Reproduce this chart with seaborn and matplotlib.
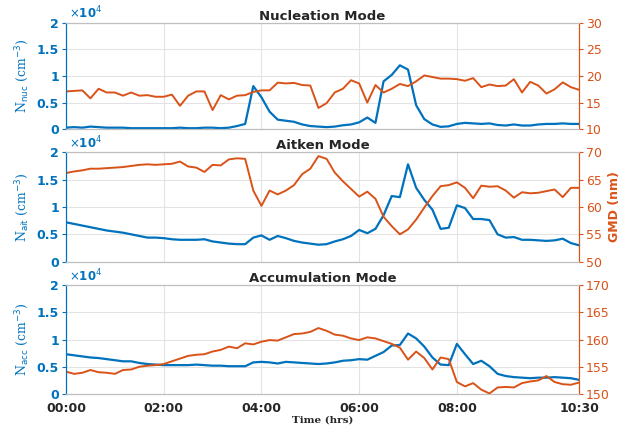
import numpy as np
import pandas as pd
import matplotlib
matplotlib.use("Agg")
import matplotlib.pyplot as plt
import seaborn as sns

# time axis: 10-min steps from 00:00 to 10:30 (hours)
minutes = np.arange(0, 631, 10)
hours = minutes / 60.0

# Nucleation mode
n_nuc = [0.03, 0.04, 0.03, 0.05, 0.04, 0.03, 0.03, 0.03, 0.02, 0.02, 0.02, 0.02,
         0.02, 0.02, 0.03, 0.02, 0.02, 0.03, 0.03, 0.02, 0.03, 0.06, 0.10, 0.81,
         0.60, 0.33, 0.18, 0.16, 0.14, 0.09, 0.06, 0.05, 0.04, 0.05, 0.075, 0.09,
         0.13, 0.22, 0.12, 0.90, 1.02, 1.20, 1.12, 0.45, 0.19, 0.09, 0.045, 0.055,
         0.10, 0.12, 0.11, 0.10, 0.11, 0.08, 0.07, 0.09, 0.07, 0.07, 0.09, 0.10,
         0.10, 0.11, 0.10, 0.10]
gmd_nuc = [17.1, 17.2, 17.3, 15.8, 17.6, 16.9, 16.9, 16.3, 16.9, 16.3, 16.4, 16.1,
           16.1, 16.5, 14.4, 16.3, 17.1, 17.1, 13.6, 16.4, 15.6, 16.3, 16.4, 17.0,
           17.3, 17.3, 18.75, 18.6, 18.7, 18.3, 18.2, 14.0, 14.9, 16.9, 17.6, 19.2,
           18.6, 15.0, 18.3, 16.9, 17.6, 18.5, 18.1, 19.0, 20.1, 19.8, 19.5, 19.5,
           19.4, 19.1, 19.6, 17.9, 18.4, 18.1, 18.2, 19.4, 16.9, 18.9, 18.2, 16.7,
           17.5, 18.8, 17.9, 17.4]

# Aitken mode
n_ait = [0.72, 0.69, 0.66, 0.63, 0.60, 0.57, 0.55, 0.53, 0.50, 0.47, 0.44, 0.44,
         0.43, 0.41, 0.40, 0.40, 0.40, 0.41, 0.37, 0.35, 0.33, 0.32, 0.32, 0.44,
         0.48, 0.40, 0.47, 0.43, 0.38, 0.35, 0.33, 0.31, 0.32, 0.37, 0.41, 0.47,
         0.58, 0.52, 0.60, 0.85, 1.20, 1.18, 1.78, 1.35, 1.13, 0.95, 0.60, 0.62,
         1.03, 0.98, 0.78, 0.78, 0.76, 0.50, 0.44, 0.45, 0.40, 0.40, 0.39, 0.38,
         0.39, 0.42, 0.34, 0.30]
gmd_ait = [66.2, 66.5, 66.7, 67.0, 67.0, 67.1, 67.2, 67.3, 67.5, 67.7, 67.8, 67.7,
           67.8, 67.9, 68.3, 67.4, 67.2, 66.4, 67.7, 67.6, 68.7, 68.9, 68.8, 63.0,
           60.2, 63.0, 62.3, 63.0, 64.0, 66.0, 67.0, 69.3, 68.8, 66.3, 64.7, 63.3,
           61.9, 62.8, 61.5, 58.2, 56.5, 55.0, 55.9, 57.7, 59.9, 62.0, 63.8, 64.0,
           64.5, 63.5, 61.6, 63.9, 63.7, 63.8, 63.0, 61.7, 62.7, 62.5, 62.6, 62.9,
           63.2, 61.8, 63.5, 63.5]

# Accumulation mode
n_acc = [0.73, 0.71, 0.69, 0.67, 0.66, 0.64, 0.62, 0.60, 0.60, 0.57, 0.55, 0.54,
         0.53, 0.53, 0.53, 0.53, 0.54, 0.53, 0.52, 0.52, 0.51, 0.51, 0.51, 0.58,
         0.59, 0.58, 0.56, 0.59, 0.58, 0.57, 0.56, 0.55, 0.56, 0.58, 0.61, 0.62,
         0.64, 0.63, 0.70, 0.77, 0.89, 0.90, 1.11, 1.02, 0.87, 0.67, 0.54, 0.53,
         0.92, 0.73, 0.55, 0.61, 0.51, 0.37, 0.33, 0.31, 0.30, 0.29, 0.30, 0.30,
         0.31, 0.30, 0.29, 0.26]
gmd_acc = [154.1, 153.7, 153.9, 154.4, 154.0, 153.9, 153.7, 154.4, 154.5, 155.0, 155.2, 155.3,
           155.5, 156.0, 156.5, 157.0, 157.2, 157.3, 157.8, 158.1, 158.7, 158.4, 159.3, 159.1,
           159.6, 159.9, 159.8, 160.4, 161.0, 161.1, 161.4, 162.1, 161.6, 160.9, 160.7, 160.2,
           159.9, 160.4, 160.2, 159.7, 159.2, 158.5, 156.3, 157.8, 156.6, 154.5, 156.7, 156.4,
           152.2, 151.4, 152.0, 150.8, 150.1, 151.2, 151.3, 151.2, 152.0, 152.3, 152.5, 153.3,
           152.2, 151.8, 151.7, 152.1]

titles = ["Nucleation Mode", "Aitken Mode", "Accumulation Mode"]
subs = ["nuc", "ait", "acc"]
gmd_lims = [(10, 30), (50, 70), (150, 170)]
xtick_pos = [0, 2, 4, 6, 8, 10.5]
xtick_lab = ["00:00", "02:00", "04:00", "06:00", "08:00", "10:30"]

BLUE = "#0072BD"
ORANGE = "#D95319"

sns.set_style("whitegrid", {"grid.color": "#e3e3e3", "axes.edgecolor": "#bfbfbf"})
plt.rcParams["font.family"] = ["DejaVu Sans"]

fig = plt.figure(figsize=(6.44, 4.28), dpi=100)
rects = [[0.1025, 0.698, 0.7966, 0.249],
         [0.1025, 0.3886, 0.7966, 0.2556],
         [0.1025, 0.0794, 0.7966, 0.2547]]

series = [(n_nuc, gmd_nuc), (n_ait, gmd_ait), (n_acc, gmd_acc)]

for i, (rect, (n_vals, g_vals)) in enumerate(zip(rects, series)):
    df = pd.DataFrame({"hours": hours, "N": n_vals, "GMD": g_vals})
    ax = fig.add_axes(rect)
    ax2 = ax.twinx()

    sns.lineplot(data=df, x="hours", y="N", ax=ax, color=BLUE, linewidth=1.6, zorder=3)
    sns.lineplot(data=df, x="hours", y="GMD", ax=ax2, color=ORANGE, linewidth=1.4)

    ax.set_xlim(0, 10.5)
    ax.set_ylim(0, 2)
    ax.set_yticks([0, 0.5, 1, 1.5, 2])
    ax.set_yticklabels(["0", "0.5", "1", "1.5", "2"])
    ax2.set_ylim(*gmd_lims[i])
    ax2.set_yticks(np.linspace(gmd_lims[i][0], gmd_lims[i][1], 5))
    ax2.grid(False)
    ax.grid(True, color="#e3e3e3", linewidth=0.8)

    ax.set_xticks(xtick_pos)
    if i == 2:
        ax.set_xticklabels(xtick_lab, fontweight="bold", fontsize=9, color="#262626")
        ax.set_xlabel("Time (hrs)", family="serif", fontweight="bold", fontsize=7.5,
                      labelpad=0)
    else:
        ax.set_xticklabels([])
        ax.set_xlabel("")

    ax.tick_params(axis="y", colors=BLUE, labelsize=9, length=3, pad=2)
    ax.tick_params(axis="x", length=3, pad=3)
    for lab in ax.get_yticklabels():
        lab.set_fontweight("bold")
    ax2.tick_params(axis="y", colors=ORANGE, labelsize=9, length=3, pad=2)
    ax2.set_ylabel("")

    ax.set_ylabel(r"N$_{\rm " + subs[i] + r"}$ (cm$^{-3}$)", family="serif",
                  color=BLUE, fontsize=9, labelpad=4)
    ax.set_title(titles[i], fontweight="bold", fontsize=9.5, pad=2)
    ax.text(0.005, 1.01, r"$\times$10$^4$", transform=ax.transAxes, color=BLUE,
            fontsize=8.5, fontweight="bold", va="bottom", ha="left")

    for a in (ax, ax2):
        a.spines["left"].set_color(BLUE)
        a.spines["right"].set_color(ORANGE)
        a.spines["top"].set_color("#bfbfbf")
        a.spines["bottom"].set_color("#bfbfbf")

    if i == 1:
        ax2.set_ylabel("GMD (nm)", color=ORANGE, fontweight="bold", fontsize=9, labelpad=4)

fig.savefig("out.png", dpi=100)
